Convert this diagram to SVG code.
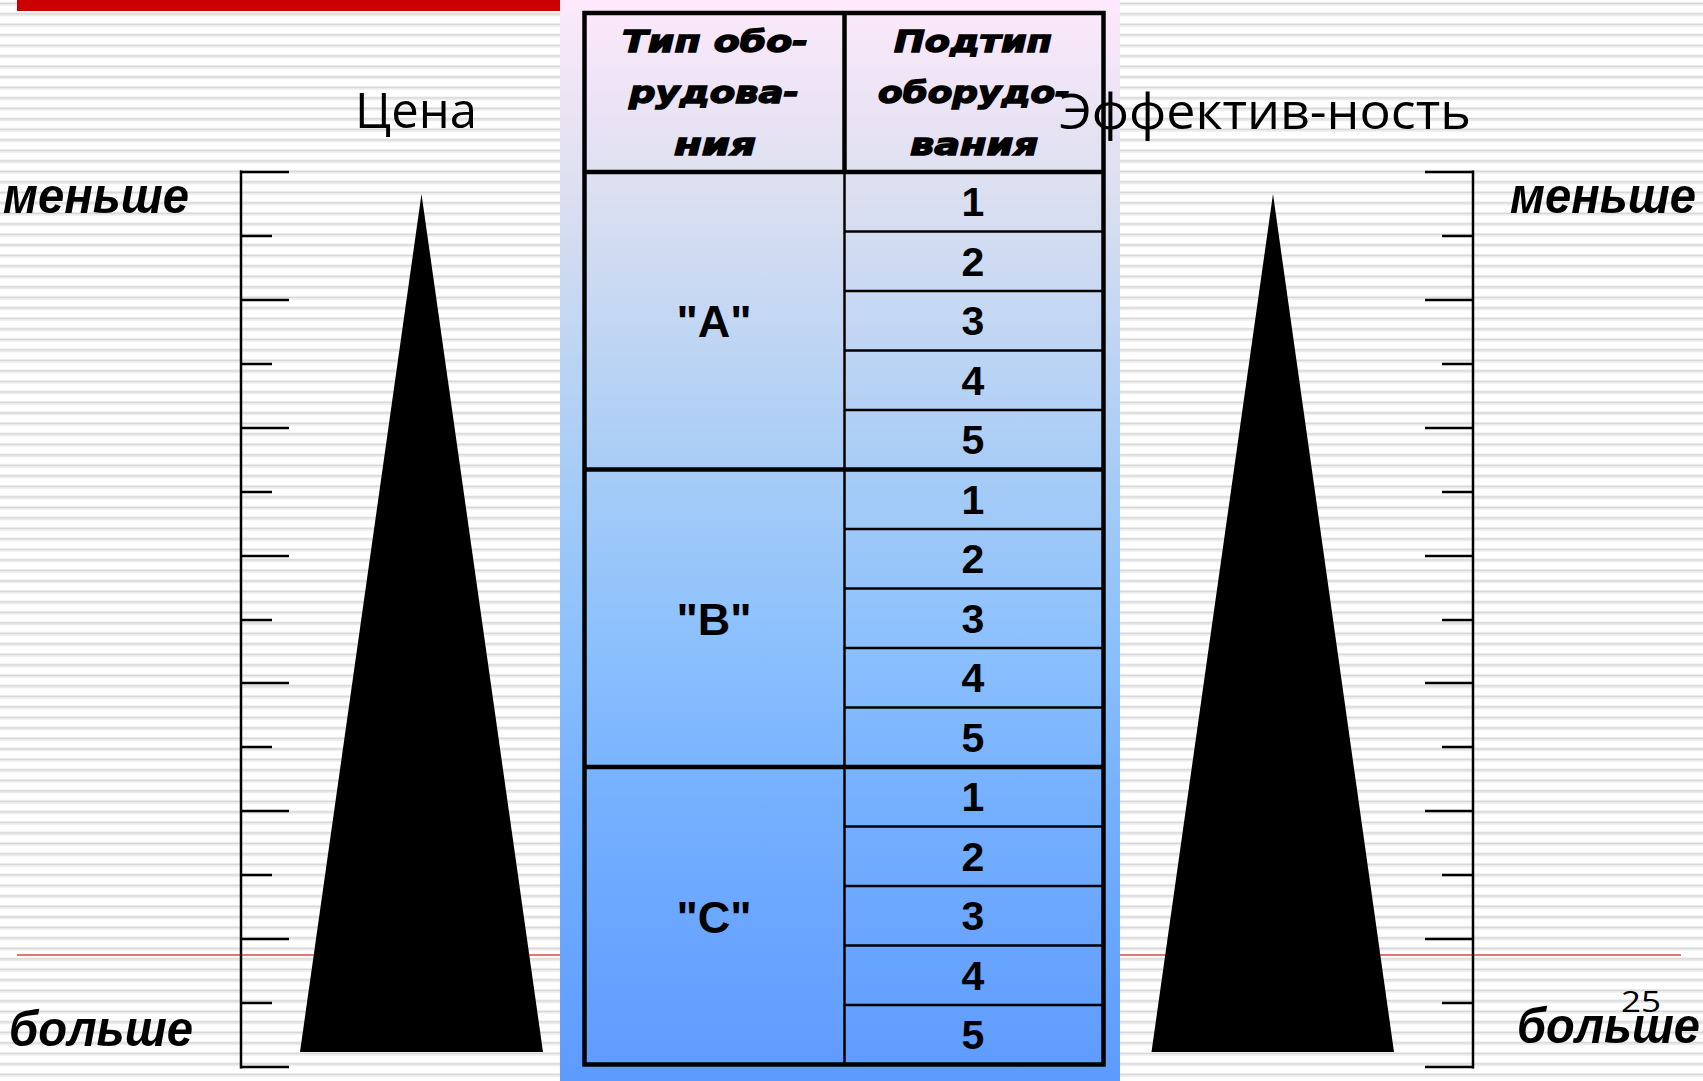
<svg xmlns="http://www.w3.org/2000/svg" width="1703" height="1081" viewBox="0 0 1703 1081">
<style>
.hdr{font-family:"DejaVu Sans",sans-serif;font-weight:bold;font-style:italic;font-size:30px;fill:#000;stroke:#000;stroke-width:1.4;text-anchor:middle}
.num{font-family:"Liberation Sans",Arial,sans-serif;font-weight:bold;font-size:41px;fill:#000;text-anchor:middle}
.grp{font-family:"Liberation Sans",Arial,sans-serif;font-weight:bold;font-size:45px;fill:#000;text-anchor:middle}
.ttl{font-family:"Open Sans",sans-serif;font-size:49px;fill:#000}
.side{font-family:"Liberation Sans",Arial,sans-serif;font-weight:bold;font-style:italic;font-size:50px;fill:#000}
.thick{stroke:#000;stroke-width:4.5;fill:none}
.thin{stroke:#000;stroke-width:2.5;fill:none}
.tick{stroke:#000;stroke-width:2.5;fill:none}
</style>
<defs>
<pattern id="stripes" x="0" y="0" width="20" height="10.5" patternUnits="userSpaceOnUse">
<rect x="0" y="0" width="20" height="10.5" fill="#ffffff"/>
<rect x="0" y="2.5" width="20" height="1.5" fill="#d4d4d4"/>
<rect x="0" y="4" width="20" height="1.5" fill="#e8e8e8"/>
</pattern>
<linearGradient id="panelGrad" x1="0" y1="0" x2="0" y2="1">
<stop offset="0" stop-color="#fde9fb"/>
<stop offset="0.17" stop-color="#dde0f0"/>
<stop offset="0.44" stop-color="#a6ccf6"/>
<stop offset="0.6" stop-color="#8bc0fd"/>
<stop offset="0.75" stop-color="#74afff"/>
<stop offset="1" stop-color="#5e9bff"/>
</linearGradient>
</defs>

<g id="background">
<rect x="0" y="0" width="1703" height="1081" fill="url(#stripes)"/>
<rect x="17" y="0" width="543" height="11" fill="#cc0000"/>
<line x1="17" y1="955" x2="1681" y2="955" stroke="#e07878" stroke-width="2"/>
</g>

<g id="panel">
<rect x="560" y="0" width="560" height="1081" fill="url(#panelGrad)"/>
</g>

<g id="table">
<g id="table-grid">
<rect class="thick" x="584.5" y="13" width="519" height="1051.5"/>
<line class="thick" x1="844.5" y1="13" x2="844.5" y2="172"/>
<line class="thin" x1="844.5" y1="172" x2="844.5" y2="1064.5"/>
<line class="thick" x1="584.5" y1="172" x2="1103.5" y2="172"/>
<line class="thick" x1="584.5" y1="469.5" x2="1103.5" y2="469.5"/>
<line class="thick" x1="584.5" y1="767" x2="1103.5" y2="767"/>
<line class="thin" x1="844.5" y1="231.5" x2="1103.5" y2="231.5"/>
<line class="thin" x1="844.5" y1="291" x2="1103.5" y2="291"/>
<line class="thin" x1="844.5" y1="350.5" x2="1103.5" y2="350.5"/>
<line class="thin" x1="844.5" y1="410" x2="1103.5" y2="410"/>
<line class="thin" x1="844.5" y1="529" x2="1103.5" y2="529"/>
<line class="thin" x1="844.5" y1="588.5" x2="1103.5" y2="588.5"/>
<line class="thin" x1="844.5" y1="648" x2="1103.5" y2="648"/>
<line class="thin" x1="844.5" y1="707.5" x2="1103.5" y2="707.5"/>
<line class="thin" x1="844.5" y1="826.5" x2="1103.5" y2="826.5"/>
<line class="thin" x1="844.5" y1="886" x2="1103.5" y2="886"/>
<line class="thin" x1="844.5" y1="945.5" x2="1103.5" y2="945.5"/>
<line class="thin" x1="844.5" y1="1005" x2="1103.5" y2="1005"/>
</g>
<g id="header-type">
<text class="hdr" x="715" y="52" textLength="186" lengthAdjust="spacingAndGlyphs">Тип обо-</text>
<text class="hdr" x="714" y="103" textLength="170" lengthAdjust="spacingAndGlyphs">рудова-</text>
<text class="hdr" x="715" y="155" textLength="82" lengthAdjust="spacingAndGlyphs">ния</text>
</g>
<g id="header-subtype">
<text class="hdr" x="973" y="52" textLength="158" lengthAdjust="spacingAndGlyphs">Подтип</text>
<text class="hdr" x="974" y="103" textLength="192" lengthAdjust="spacingAndGlyphs">оборудо-</text>
<text class="hdr" x="974" y="155" textLength="128" lengthAdjust="spacingAndGlyphs">вания</text>
</g>
<g id="group-A">
<text class="grp" x="714" y="337">"A"</text>
<text class="num" x="973" y="216">1</text>
<text class="num" x="973" y="276">2</text>
<text class="num" x="973" y="335">3</text>
<text class="num" x="973" y="395">4</text>
<text class="num" x="973" y="454">5</text>
</g>
<g id="group-B">
<text class="grp" x="714" y="635">"B"</text>
<text class="num" x="973" y="514">1</text>
<text class="num" x="973" y="573">2</text>
<text class="num" x="973" y="633">3</text>
<text class="num" x="973" y="692">4</text>
<text class="num" x="973" y="752">5</text>
</g>
<g id="group-C">
<text class="grp" x="714" y="933">"C"</text>
<text class="num" x="973" y="811">1</text>
<text class="num" x="973" y="871">2</text>
<text class="num" x="973" y="930">3</text>
<text class="num" x="973" y="990">4</text>
<text class="num" x="973" y="1049">5</text>
</g>
</g>

<g id="price-scale">
<line class="tick" x1="241" y1="170.5" x2="241" y2="1068.5"/>
<line class="tick" x1="240" y1="172" x2="289" y2="172"/>
<line class="tick" x1="240" y1="236" x2="272" y2="236"/>
<line class="tick" x1="240" y1="300" x2="289" y2="300"/>
<line class="tick" x1="240" y1="364" x2="272" y2="364"/>
<line class="tick" x1="240" y1="428" x2="289" y2="428"/>
<line class="tick" x1="240" y1="492" x2="272" y2="492"/>
<line class="tick" x1="240" y1="556" x2="289" y2="556"/>
<line class="tick" x1="240" y1="620" x2="272" y2="620"/>
<line class="tick" x1="240" y1="683" x2="289" y2="683"/>
<line class="tick" x1="240" y1="747" x2="272" y2="747"/>
<line class="tick" x1="240" y1="811" x2="289" y2="811"/>
<line class="tick" x1="240" y1="875" x2="272" y2="875"/>
<line class="tick" x1="240" y1="939" x2="289" y2="939"/>
<line class="tick" x1="240" y1="1003" x2="272" y2="1003"/>
<line class="tick" x1="240" y1="1067" x2="289" y2="1067"/>
</g>
<g id="price-triangle">
<polygon points="421.5,194 300,1052 543,1052" fill="#000"/>
</g>

<g id="efficiency-scale">
<line class="tick" x1="1473" y1="170.5" x2="1473" y2="1068.5"/>
<line class="tick" x1="1425" y1="172" x2="1474" y2="172"/>
<line class="tick" x1="1442" y1="236" x2="1474" y2="236"/>
<line class="tick" x1="1425" y1="300" x2="1474" y2="300"/>
<line class="tick" x1="1442" y1="364" x2="1474" y2="364"/>
<line class="tick" x1="1425" y1="428" x2="1474" y2="428"/>
<line class="tick" x1="1442" y1="492" x2="1474" y2="492"/>
<line class="tick" x1="1425" y1="556" x2="1474" y2="556"/>
<line class="tick" x1="1442" y1="620" x2="1474" y2="620"/>
<line class="tick" x1="1425" y1="683" x2="1474" y2="683"/>
<line class="tick" x1="1442" y1="747" x2="1474" y2="747"/>
<line class="tick" x1="1425" y1="811" x2="1474" y2="811"/>
<line class="tick" x1="1442" y1="875" x2="1474" y2="875"/>
<line class="tick" x1="1425" y1="939" x2="1474" y2="939"/>
<line class="tick" x1="1442" y1="1003" x2="1474" y2="1003"/>
<line class="tick" x1="1425" y1="1067" x2="1474" y2="1067"/>
</g>
<g id="efficiency-triangle">
<polygon points="1273,194 1151.5,1052 1394,1052" fill="#000"/>
</g>

<g id="labels">
<text class="ttl" x="416" y="128" text-anchor="middle">Цена</text>
<text class="ttl" x="1059" y="129" textLength="412" lengthAdjust="spacingAndGlyphs">Эффектив-ность</text>
<text class="side" x="3" y="213" textLength="186" lengthAdjust="spacingAndGlyphs">меньше</text>
<text class="side" x="1510" y="213" textLength="186" lengthAdjust="spacingAndGlyphs">меньше</text>
<text class="side" x="9" y="1046" textLength="184" lengthAdjust="spacingAndGlyphs">больше</text>
<text class="side" x="1517" y="1043" textLength="183" lengthAdjust="spacingAndGlyphs">больше</text>
<text x="1621" y="1012" font-family="Open Sans, sans-serif" font-size="30" fill="#000" textLength="40" lengthAdjust="spacingAndGlyphs">25</text>
</g>
<g id="connectors"/>
</svg>
